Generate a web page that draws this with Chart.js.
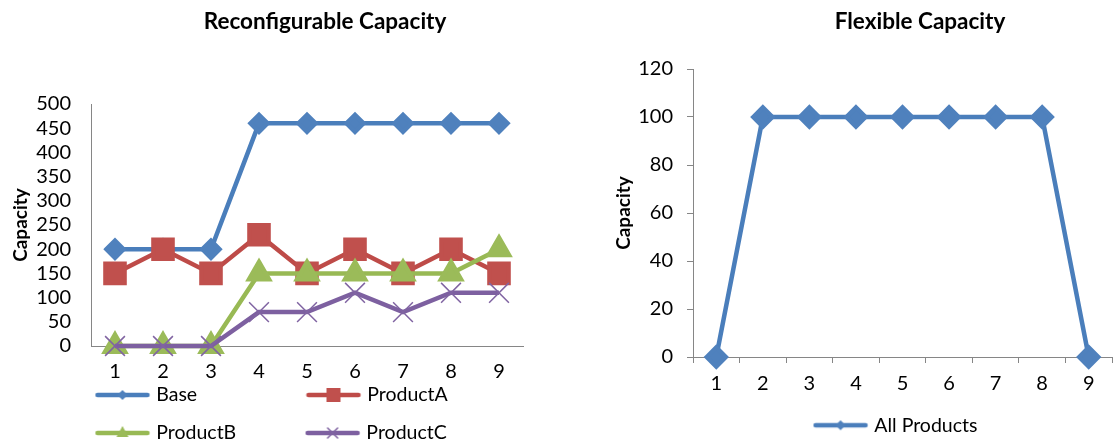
<!DOCTYPE html>
<html>
<head>
<meta charset="utf-8">
<script src="https://cdn.jsdelivr.net/npm/chart.js@4.4.0/dist/chart.umd.min.js"></script>
<style>
  html, body { margin: 0; padding: 0; background: #fff; overflow: hidden; width: 1115px; height: 442px; position: relative; }
  canvas { position: absolute; top: 0; }
  #reconfChart { left: 0; }
  #flexChart { left: 610px; }
</style>
</head>
<body>
<canvas id="reconfChart" width="650" height="472"></canvas>
<canvas id="flexChart" width="620" height="445"></canvas>
<script>
// data
const periods = ["1", "2", "3", "4", "5", "6", "7", "8", "9"];
const baseCap = [200, 200, 200, 460, 460, 460, 460, 460, 460];
const productA = [150, 200, 150, 230, 150, 200, 150, 200, 150];
const productB = [0, 0, 0, 150, 150, 150, 150, 150, 200];
const productC = [0, 0, 0, 70, 70, 110, 70, 110, 110];
const allProducts = [0, 100, 100, 100, 100, 100, 100, 100, 0];
const reconfTicks = [0, 50, 100, 150, 200, 250, 300, 350, 400, 450, 500];
const flexTicks = [0, 20, 40, 60, 80, 100, 120];

const FONT = "Lato, 'Liberation Sans', sans-serif";
const AXIS = "#868686";
const LEGEND_SIZE = 19.5;
Chart.defaults.color = "#000";
Chart.defaults.font.family = FONT;

// legend glyph: short line with the marker in the middle
function legendIcon(line, fill, shape) {
  const c = document.createElement("canvas");
  c.width = 67; c.height = 20;
  const ctx = c.getContext("2d");
  ctx.strokeStyle = line;
  ctx.lineWidth = 4.5;
  ctx.lineCap = "round";
  ctx.beginPath(); ctx.moveTo(3, 10); ctx.lineTo(53, 10); ctx.stroke();
  ctx.fillStyle = fill;
  ctx.strokeStyle = fill;
  ctx.beginPath();
  if (shape === "diamond") {
    ctx.moveTo(28, 5); ctx.lineTo(33, 10); ctx.lineTo(28, 15); ctx.lineTo(23, 10); ctx.closePath(); ctx.fill();
  } else if (shape === "square") {
    ctx.rect(21, 3, 14, 14); ctx.fill();
  } else if (shape === "triangle") {
    ctx.moveTo(28, 3); ctx.lineTo(34, 14); ctx.lineTo(22, 14); ctx.closePath(); ctx.fill();
  } else if (shape === "cross") {
    ctx.lineWidth = 1.5;
    ctx.moveTo(23, 5); ctx.lineTo(33, 15); ctx.moveTo(33, 5); ctx.lineTo(23, 15); ctx.stroke();
  }
  return c;
}

// pad first-column labels so the second column lines up
const measure = document.createElement("canvas").getContext("2d");
measure.font = LEGEND_SIZE + "px " + FONT;
function padTo(text, w) {
  let t = text;
  while (Math.abs(measure.measureText(t + " ").width - w) < Math.abs(measure.measureText(t).width - w)) t += " ";
  return t;
}

function makeLabels(chart) {
  return chart.data.datasets.map((ds, i) => ({
    text: ds.legendText || ds.label,
    pointStyle: ds.legendIcon,
    fillStyle: ds.borderColor,
    strokeStyle: "rgba(0,0,0,0)",
    lineWidth: 0,
    hidden: false,
    datasetIndex: i
  }));
}

function spacer(w) {
  return {
    position: "right", display: true,
    grid: { display: false }, border: { display: false }, ticks: { display: false },
    afterFit: s => { s.width = w; }
  };
}

// pull the legend up a little, closer to the axis labels
const legendLift = {
  id: "legendLift",
  afterLayout(chart, args, opts) {
    const lg = chart.legend;
    if (lg && opts.by) { lg.top -= opts.by; lg.bottom -= opts.by; }
  }
};

new Chart(document.getElementById("reconfChart"), {
  type: "line",
  plugins: [legendLift],
  data: {
    labels: periods,
    datasets: [
      { label: "Base", legendText: padTo("Base", 146), data: baseCap, borderColor: "#4A7EBB", backgroundColor: "#4F81BD",
        pointStyle: "rectRot", pointRadius: 8.5, pointBorderColor: "#4F81BD", order: 3,
        legendIcon: legendIcon("#4A7EBB", "#4F81BD", "diamond") },
      { label: "ProductA", data: productA, borderColor: "#BE4B48", backgroundColor: "#C0504D",
        pointStyle: "rect", pointRadius: 13.5, pointBorderColor: "#C0504D", order: 2,
        legendIcon: legendIcon("#BE4B48", "#C0504D", "square") },
      { label: "ProductB", legendText: padTo("ProductB", 146), data: productB, borderColor: "#98B954", backgroundColor: "#9BBB59",
        pointStyle: "triangle", pointRadius: 11.5, pointBorderColor: "#9BBB59", order: 1,
        legendIcon: legendIcon("#98B954", "#9BBB59", "triangle") },
      { label: "ProductC", data: productC, borderColor: "#7D60A0", backgroundColor: "#8064A2",
        pointStyle: "crossRot", pointRadius: 14, pointBorderColor: "#8064A2", pointBorderWidth: 1.5, order: 0,
        legendIcon: legendIcon("#7D60A0", "#8064A2", "cross") }
    ].map(d => Object.assign({ borderWidth: 4.5, tension: 0, clip: false, pointHoverRadius: d.pointRadius }, d))
  },
  options: {
    responsive: false,
    animation: false,
    devicePixelRatio: 1,
    layout: { padding: 0 },
    plugins: {
      title: {
        display: true, text: "Reconfigurable Capacity",
        font: { size: 22.5, weight: "bold", family: FONT }, padding: { top: 8.5, bottom: 68.5 }
      },
      legend: {
        position: "bottom", align: "start", fullSize: false,
        labels: {
          usePointStyle: true, pointStyleWidth: 37, padding: 18.5,
          font: { size: LEGEND_SIZE, family: FONT }, generateLabels: makeLabels
        }
      },
      legendLift: { by: 19.25 },
      tooltip: { enabled: false }
    },
    scales: {
      x: {
        offset: true,
        grid: { display: false, drawTicks: false },
        border: { color: AXIS, width: 1 },
        ticks: { font: { size: 20 }, padding: 14, autoSkip: false, maxRotation: 0 },
        afterFit: s => { s.height = 40; }
      },
      y: {
        min: 0, max: 500,
        grid: { display: false, drawTicks: false },
        border: { color: AXIS, width: 1 },
        ticks: { font: { size: 20 }, padding: 20, autoSkip: false },
        afterBuildTicks: s => { s.ticks = reconfTicks.map(v => ({ value: v })); },
        title: { display: true, text: "Capacity", font: { size: 19, weight: "bold" }, padding: { top: 9, bottom: 0 } },
        afterFit: s => { s.width = 91; }
      },
      yR: spacer(127)
    }
  }
});

new Chart(document.getElementById("flexChart"), {
  type: "line",
  data: {
    labels: periods,
    datasets: [
      { label: "All Products", data: allProducts, borderColor: "#4A7EBB", backgroundColor: "#4F81BD",
        borderWidth: 4.5, tension: 0, clip: false,
        pointStyle: "rectRot", pointRadius: 9.5, pointHoverRadius: 9.5, pointBorderColor: "#4F81BD",
        legendIcon: legendIcon("#4A7EBB", "#4F81BD", "diamond") }
    ]
  },
  options: {
    responsive: false,
    animation: false,
    devicePixelRatio: 1,
    layout: { padding: 0 },
    plugins: {
      title: {
        display: true, text: "Flexible Capacity",
        font: { size: 22.5, weight: "bold", family: FONT }, padding: { top: 8.5, bottom: 33.5 }
      },
      legend: {
        position: "bottom", align: "center", fullSize: false,
        labels: {
          usePointStyle: true, pointStyleWidth: 37, padding: 18.5,
          font: { size: LEGEND_SIZE, family: FONT }, generateLabels: makeLabels
        }
      },
      tooltip: { enabled: false }
    },
    scales: {
      x: {
        offset: true,
        grid: { display: true, offset: true, drawOnChartArea: false, tickLength: 6, color: AXIS },
        border: { color: AXIS, width: 1 },
        ticks: { font: { size: 20 }, padding: 9, autoSkip: false, maxRotation: 0 },
        afterFit: s => { s.height = 40; }
      },
      y: {
        min: 0, max: 120,
        grid: { display: true, drawOnChartArea: false, tickLength: 6, color: AXIS },
        border: { color: AXIS, width: 1 },
        ticks: { font: { size: 20 }, padding: 14, autoSkip: false },
        afterBuildTicks: s => { s.ticks = flexTicks.map(v => ({ value: v })); },
        title: { display: true, text: "Capacity", font: { size: 19, weight: "bold" }, padding: { top: 2, bottom: 0 } },
        afterFit: s => { s.width = 83; }
      },
      yR: spacer(118)
    }
  }
});
</script>
</body>
</html>
